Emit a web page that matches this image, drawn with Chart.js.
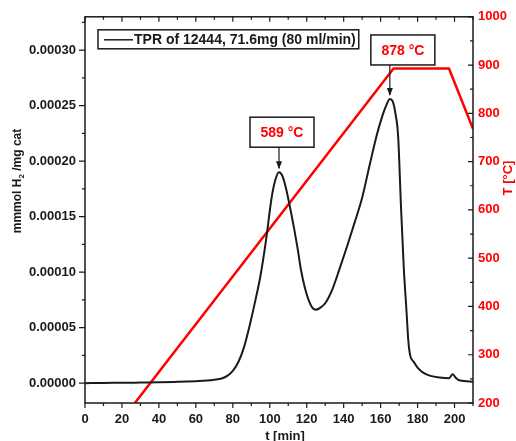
<!DOCTYPE html>
<html>
<head>
<meta charset="utf-8">
<script src="https://cdn.jsdelivr.net/npm/chart.js@4.4.0/dist/chart.umd.min.js"></script>
<style>
  html, body { margin: 0; padding: 0; background: #fff; }
</style>
</head>
<body>
<canvas id="tprChart" width="516" height="441"></canvas>
<script>
// TPR signal (mmol H2 / mg cat) vs time
var tMin = [0, 10, 20, 30, 40, 50, 60, 66, 70, 74, 77, 80, 83, 86, 89, 92, 95, 98, 101, 103, 105, 107, 109,
  111, 113, 115, 117, 119, 121, 123, 125, 127, 130, 134, 138, 142, 146, 150, 154, 158, 161, 163, 165,
  166.5, 168, 169.5, 171, 172.5, 174, 175, 176, 178, 180, 183, 187, 192, 197, 199, 200.5, 202, 205, 210];
var h2Uptake = [0, 0.2e-6, 0.3e-6, 0.5e-6, 0.7e-6, 1.2e-6, 1.8e-6, 2.3e-6, 3.0e-6, 4.2e-6, 6.5e-6, 11e-6,
  19e-6, 32e-6, 51e-6, 73e-6, 97e-6, 129e-6, 167e-6, 183e-6, 190e-6, 186e-6, 174e-6,
  158e-6, 141e-6, 122e-6, 101e-6, 86e-6, 75e-6, 68e-6, 66e-6, 67.5e-6, 72e-6, 85e-6, 104e-6, 124e-6,
  145e-6, 167e-6, 196e-6, 224e-6, 241e-6, 250e-6, 256e-6,
  254e-6, 243e-6, 222e-6, 160e-6, 105e-6, 65e-6, 38e-6, 25e-6, 19e-6, 14e-6, 9.5e-6, 6.5e-6, 5e-6,
  4.5e-6, 8e-6, 5e-6, 3e-6, 2e-6, 1.3e-6];

// temperature program
var rampTime = [27, 167, 197, 210];
var rampTemp = [200, 893, 893, 768];

// peak labels
var peakTimes = [105, 165];
var peakLabels = ['589 °C', '878 °C'];

var legendText = 'TPR of 12444, 71.6mg (80 ml/min)';
var leftTitle = ['mmmol H', '2', ' /mg cat'];
var rightTitle = 'T [°C]';
var bottomTitle = 't [min]';

var fontFamily = '"Liberation Sans", Arial, sans-serif';
var inkColor = '#1a1a1a';
var tempColor = '#ff0000';

// frame, tick marks, titles, legend and peak boxes
var decorPlugin = {
  id: 'decor',
  afterDatasetsDraw: function(chart) {
    var ctx = chart.ctx;
    var a = chart.chartArea;
    var x = chart.scales.x, y = chart.scales.y, y1 = chart.scales.y1;
    ctx.save();
    ctx.strokeStyle = inkColor;
    ctx.lineWidth = 1.5;
    ctx.strokeRect(a.left, a.top, a.right - a.left, a.bottom - a.top);

    ctx.lineWidth = 1.2;
    ctx.beginPath();
    // x: outward at bottom, inward at top
    for (var t = 0; t <= x.max; t += 10) {
      var px = x.getPixelForValue(t);
      var len = (t % 20 === 0) ? 5 : 3;
      ctx.moveTo(px, a.bottom); ctx.lineTo(px, a.bottom + len);
      ctx.moveTo(px, a.top); ctx.lineTo(px, a.top + len);
    }
    // left y: outward
    for (var i = 0; i * 0.000025 <= y.max; i++) {
      var py = y.getPixelForValue(i * 0.000025);
      var l = (i % 2 === 0) ? 6 : 3;
      ctx.moveTo(a.left - l, py); ctx.lineTo(a.left, py);
    }
    // right y: inward
    for (var T = 200; T <= y1.max; T += 50) {
      var py1 = y1.getPixelForValue(T);
      var l1 = (T % 100 === 0) ? 5 : 3;
      ctx.moveTo(a.right - l1, py1); ctx.lineTo(a.right, py1);
    }
    ctx.stroke();

    // left title, reads upward
    ctx.fillStyle = inkColor;
    ctx.textBaseline = 'middle';
    ctx.textAlign = 'left';
    var bigFont = 'bold 12px ' + fontFamily;
    var subFont = 'bold 8px ' + fontFamily;
    ctx.font = bigFont;
    var w0 = ctx.measureText(leftTitle[0]).width;
    var w2 = ctx.measureText(leftTitle[2]).width;
    ctx.font = subFont;
    var w1 = ctx.measureText(leftTitle[1]).width;
    var total = w0 + w1 + w2;
    ctx.save();
    ctx.translate(18, 181);
    ctx.rotate(-Math.PI / 2);
    var sx = -total / 2;
    ctx.font = bigFont;
    ctx.fillText(leftTitle[0], sx, 0);
    ctx.font = subFont;
    ctx.fillText(leftTitle[1], sx + w0, 4);
    ctx.font = bigFont;
    ctx.fillText(leftTitle[2], sx + w0 + w1, 0);
    ctx.restore();

    // right title, also reads upward
    ctx.save();
    ctx.fillStyle = tempColor;
    ctx.font = 'bold 13px ' + fontFamily;
    ctx.textAlign = 'center';
    ctx.translate(508, 178);
    ctx.rotate(-Math.PI / 2);
    ctx.fillText(rightTitle, 0, 0);
    ctx.restore();

    // bottom title
    ctx.font = 'bold 13px ' + fontFamily;
    ctx.textAlign = 'center';
    ctx.fillText(bottomTitle, 285, 436);

    // legend box
    var lx = a.left + 13, ly = a.top + 13;
    ctx.font = 'bold 14px ' + fontFamily;
    var tw = ctx.measureText(legendText).width;
    var bw = 36 + tw + 3;
    ctx.fillStyle = '#fff';
    ctx.fillRect(lx, ly, bw, 19);
    ctx.lineWidth = 1.5;
    ctx.strokeStyle = inkColor;
    ctx.strokeRect(lx, ly, bw, 19);
    ctx.beginPath();
    ctx.lineWidth = 1.5;
    ctx.moveTo(lx + 6, ly + 10); ctx.lineTo(lx + 35, ly + 10);
    ctx.stroke();
    ctx.fillStyle = inkColor;
    ctx.textAlign = 'left';
    ctx.fillText(legendText, lx + 36, ly + 10);

    // peak boxes with arrows
    var boxShift = [3, 13];
    var boxGap = [25, 34];
    for (var k = 0; k < peakTimes.length; k++) {
      var idx = tMin.indexOf(peakTimes[k]);
      var qx = x.getPixelForValue(peakTimes[k]);
      var qy = y.getPixelForValue(h2Uptake[idx]);
      var bottom = qy - boxGap[k];
      var cx = qx + boxShift[k];
      var bxw = 64, bxh = 30;
      ctx.fillStyle = '#fff';
      ctx.fillRect(cx - bxw / 2, bottom - bxh, bxw, bxh);
      ctx.lineWidth = 1.5;
      ctx.strokeStyle = inkColor;
      ctx.strokeRect(cx - bxw / 2, bottom - bxh, bxw, bxh);
      ctx.fillStyle = tempColor;
      ctx.font = 'bold 14px ' + fontFamily;
      ctx.textAlign = 'center';
      ctx.fillText(peakLabels[k], cx, bottom - bxh / 2 + 1);
      // arrow
      ctx.beginPath();
      ctx.lineWidth = 1.2;
      ctx.moveTo(qx, bottom); ctx.lineTo(qx, qy - 4);
      ctx.stroke();
      ctx.beginPath();
      ctx.fillStyle = inkColor;
      ctx.moveTo(qx - 3, qy - 11); ctx.lineTo(qx + 3, qy - 11); ctx.lineTo(qx, qy - 3);
      ctx.closePath();
      ctx.fill();
    }
    ctx.restore();
  }
};

var ctx = document.getElementById('tprChart').getContext('2d');
window.tprChart = new Chart(ctx, {
  type: 'line',
  data: {
    datasets: [{
      label: 'TPR',
      data: tMin.map(function(t, i) { return { x: t, y: h2Uptake[i] }; }),
      yAxisID: 'y',
      borderColor: inkColor,
      borderWidth: 2,
      pointRadius: 0,
      cubicInterpolationMode: 'monotone',
      fill: false
    }, {
      label: 'T',
      data: rampTime.map(function(t, i) { return { x: t, y: rampTemp[i] }; }),
      yAxisID: 'y1',
      borderColor: tempColor,
      borderWidth: 2.5,
      pointRadius: 0,
      tension: 0,
      fill: false
    }]
  },
  options: {
    responsive: false,
    animation: false,
    devicePixelRatio: 1,
    layout: { padding: { top: 15, left: 0, right: 0, bottom: 0 } },
    plugins: {
      legend: { display: false },
      tooltip: { enabled: false }
    },
    scales: {
      x: {
        type: 'linear',
        min: 0,
        max: 210,
        afterFit: function(s) { s.height = 38; },
        grid: { display: false, drawTicks: false },
        border: { display: false },
        ticks: {
          stepSize: 20,
          includeBounds: false,
          maxRotation: 0,
          padding: 9,
          color: inkColor,
          font: { family: fontFamily, size: 13, weight: 'bold' }
        }
      },
      y: {
        position: 'left',
        min: -0.0000179,
        max: 0.00033,
        afterFit: function(s) { s.width = 85; },
        grid: { display: false, drawTicks: false },
        border: { display: false },
        ticks: {
          stepSize: 0.00005,
          includeBounds: false,
          padding: 9,
          color: inkColor,
          font: { family: fontFamily, size: 13, weight: 'bold' },
          callback: function(v) { return v.toFixed(5); }
        }
      },
      y1: {
        position: 'right',
        min: 200,
        max: 1000,
        afterFit: function(s) { s.width = 43; },
        grid: { display: false, drawTicks: false },
        border: { display: false },
        ticks: {
          stepSize: 100,
          padding: 5,
          color: tempColor,
          font: { family: fontFamily, size: 13, weight: 'bold' },
          callback: function(v) { return String(v); }
        }
      }
    }
  },
  plugins: [decorPlugin]
});
</script>
</body>
</html>
